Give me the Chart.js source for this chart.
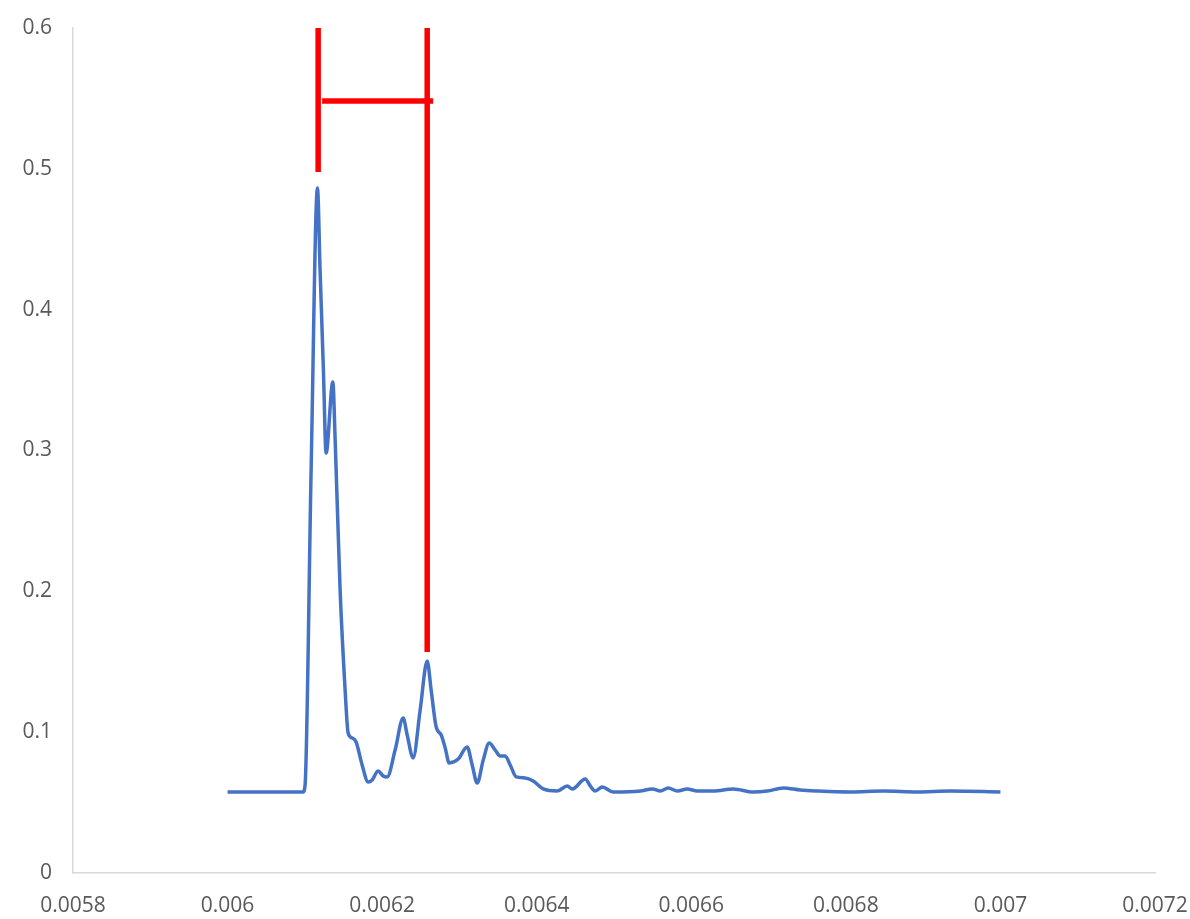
<!DOCTYPE html>
<html>
<head>
<meta charset="utf-8">
<script src="https://cdn.jsdelivr.net/npm/chart.js@4"></script>
<style>
  body { margin: 0; background: #fff; }
  #wrap { width: 1190px; height: 919px; position: relative; }
</style>
</head>
<body>
<div id="wrap"><canvas id="myChart"></canvas></div>
<script>
// tick values and labels
var xTicks = [0.0058, 0.006, 0.0062, 0.0064, 0.0066, 0.0068, 0.007, 0.0072];
var xTickLabels = ['0.0058', '0.006', '0.0062', '0.0064', '0.0066', '0.0068', '0.007', '0.0072'];
var yTicks = [0, 0.1, 0.2, 0.3, 0.4, 0.5, 0.6];
var yTickLabels = ['0', '0.1', '0.2', '0.3', '0.4', '0.5', '0.6'];

// blue signal
var signalX = [
  0.0060, 0.0060291, 0.0060615, 0.0060977, 0.0061003, 0.0061081, 0.0061163, 0.0061197,
  0.0061240, 0.0061275, 0.0061362, 0.0061392, 0.0061456, 0.0061521, 0.0061560, 0.0061612,
  0.0061663, 0.0061741, 0.0061819, 0.0061871, 0.0061948, 0.0062013, 0.0062065, 0.0062168,
  0.0062272, 0.0062324, 0.0062401, 0.0062492, 0.0062583, 0.0062634, 0.0062699, 0.0062764,
  0.0062816, 0.0062867, 0.0062984, 0.0063100, 0.0063165, 0.0063230, 0.0063308, 0.0063385,
  0.0063463, 0.0063528, 0.0063592, 0.0063657, 0.0063735, 0.0063851, 0.0063955, 0.0064084,
  0.0064265, 0.0064395, 0.0064460, 0.0064628, 0.0064693, 0.0064757, 0.0064848, 0.0064990,
  0.0065340, 0.0065495, 0.0065599, 0.0065702, 0.0065819, 0.0065948, 0.0066078, 0.0066285,
  0.0066544, 0.0066803, 0.0066984, 0.0067191, 0.0067411, 0.0067631, 0.0068058, 0.0068485,
  0.0068926, 0.0069353, 0.0070
];
var signalY = [
  0.0575, 0.0575, 0.0575, 0.0575, 0.0625, 0.2862, 0.4864, 0.4282,
  0.3572, 0.2982, 0.3487, 0.3075, 0.2010, 0.1299, 0.0994, 0.0959,
  0.0930, 0.0767, 0.0646, 0.0661, 0.0724, 0.0689, 0.0682, 0.0873,
  0.1101, 0.0980, 0.0817, 0.1157, 0.1505, 0.1299, 0.1037, 0.0980,
  0.0888, 0.0781, 0.0809, 0.0895, 0.0767, 0.0639, 0.0802, 0.0923,
  0.0873, 0.0831, 0.0831, 0.0767, 0.0682, 0.0675, 0.0653, 0.0597,
  0.0582, 0.0618, 0.0597, 0.0667, 0.0618, 0.0582, 0.0611, 0.0575,
  0.0582, 0.0597, 0.0582, 0.0604, 0.0582, 0.0597, 0.0582, 0.0582,
  0.0597, 0.0575, 0.0582, 0.0604, 0.0589, 0.0582, 0.0575, 0.0582,
  0.0575, 0.0582, 0.0575
];

// red marker lines
var markLeftX = [0.0061172, 0.0061172];
var markLeftY = [0.6, 0.4978];
var markRightX = [0.0062583, 0.0062583];
var markRightY = [0.6, 0.1569];
var spanX = [0.0061223, 0.006266];
var spanY = [0.5482, 0.5482];

function pts(xs, ys) {
  return xs.map(function (x, i) { return { x: x, y: ys[i] }; });
}

// stop the scales from reserving room for overhanging labels
function noPad(s) {
  s.paddingLeft = 0; s.paddingRight = 0; s.paddingTop = 0; s.paddingBottom = 0;
}

var red = {
  borderColor: '#ff0000',
  borderWidth: 5.5,
  pointRadius: 0,
  tension: 0,
  fill: false,
  clip: false
};

var ctx = document.getElementById('myChart');
var myChart = new Chart(ctx, {
  type: 'line',
  data: {
    datasets: [
      {
        data: pts(signalX, signalY),
        label: 'signal',
        borderColor: '#4472c4',
        borderWidth: 3.5,
        pointRadius: 0,
        cubicInterpolationMode: 'monotone',
        fill: false
      },
      Object.assign({ data: pts(markLeftX, markLeftY), label: 'a' }, red),
      Object.assign({ data: pts(markRightX, markRightY), label: 'b' }, red),
      Object.assign({ data: pts(spanX, spanY), label: 'c' }, red)
    ]
  },
  options: {
    responsive: true,
    maintainAspectRatio: false,
    animation: false,
    layout: { padding: { top: 28, right: 35, left: 0, bottom: 0 } },
    plugins: { legend: { display: false }, tooltip: { enabled: false } },
    scales: {
      x: {
        type: 'linear',
        min: 0.0058,
        max: 0.0072,
        grid: { display: false, drawTicks: false },
        border: { display: true, color: '#d9d9d9', width: 1.5 },
        afterBuildTicks: function (s) { s.ticks = xTicks.map(function (v) { return { value: v }; }); },
        afterFit: function (s) { s.height = 46; noPad(s); },
        ticks: {
          padding: 20,
          maxRotation: 0,
          autoSkip: false,
          color: '#595959',
          font: { family: 'Open Sans', size: 21 },
          callback: function (v, i) { return xTickLabels[i]; }
        }
      },
      y: {
        min: 0,
        max: 0.6,
        grid: { display: false, drawTicks: false },
        border: { display: true, color: '#d9d9d9', width: 1.5 },
        afterBuildTicks: function (s) { s.ticks = yTicks.map(function (v) { return { value: v }; }); },
        afterFit: function (s) { s.width = 73; noPad(s); },
        ticks: {
          padding: 21,
          autoSkip: false,
          color: '#595959',
          font: { family: 'Open Sans', size: 21 },
          callback: function (v, i) { return yTickLabels[i]; }
        }
      }
    }
  }
});
</script>
</body>
</html>
